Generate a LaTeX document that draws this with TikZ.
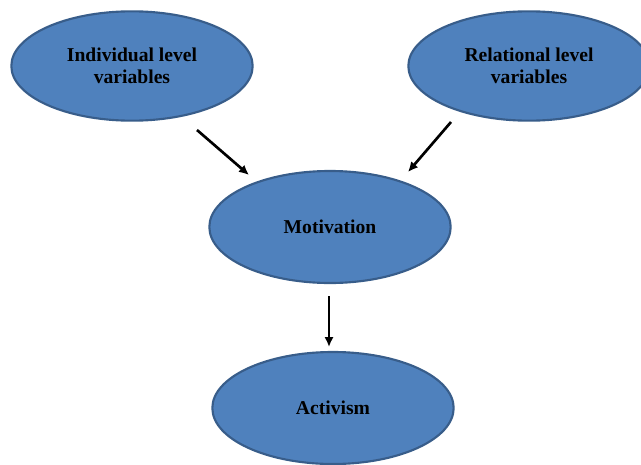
\documentclass[tikz,border=0pt]{standalone}
\usepackage{fontspec}
\setmainfont{Liberation Serif}
\usetikzlibrary{shapes.geometric,arrows.meta}
\definecolor{boxfill}{RGB}{79,129,189}
\definecolor{boxline}{RGB}{56,93,138}
\tikzset{
  blob/.style={ellipse, draw=boxline, fill=boxfill, line width=1.6pt,
    minimum width=181pt, minimum height=82pt, inner sep=0pt,
    font=\bfseries\fontsize{14.7}{16.5}\selectfont, align=center},
  link/.style={-{Latex[length=7.5pt,width=7pt]}, line width=2pt}
}
\begin{document}
\begin{tikzpicture}[x=0.75pt, y=-0.75pt]
\useasboundingbox (0,0) rectangle (641,464);
\clip (0,0) rectangle (641,464);
\node[blob] (ind) at (132,66) {Individual level\\variables};
\node[blob] (rel) at (529,66) {Relational level\\variables};
\node[blob, minimum height=84pt] (mot) at (330,227) {Motivation};
\node[blob, minimum height=84pt] (act) at (333,408) {Activism};
% arrow ends
\coordinate (a1) at (197,130);  \coordinate (b1) at (249,175);
\coordinate (a2) at (451,122);  \coordinate (b2) at (408,172);
\coordinate (a3) at (329,296);  \coordinate (b3) at (329,347);
\draw[link] (a1)--(b1);
\draw[link] (a2)--(b2);
\draw[link] (a3)--(b3);
\end{tikzpicture}
\end{document}
